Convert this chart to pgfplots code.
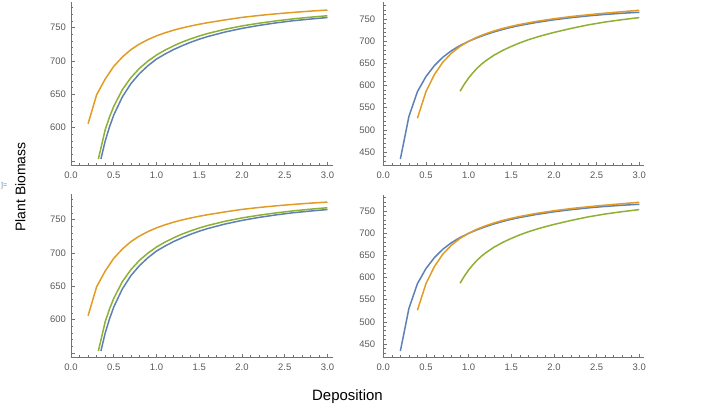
\documentclass[border=0pt]{standalone}
\usepackage{fontspec}
\setmainfont{Liberation Sans}
\usepackage{pgfplots}
\usepackage{pgfplotstable}
\pgfplotsset{compat=1.18}
\definecolor{mblue}{RGB}{94,129,181}
\definecolor{morange}{RGB}{225,156,36}
\definecolor{mgreen}{RGB}{143,176,50}
\definecolor{axgray}{RGB}{115,115,115}
\definecolor{labgray}{RGB}{90,90,90}

\pgfplotstableread{
x y
0.35 553
0.4 580
0.45 601
0.5 619
0.6 646
0.7 666
0.8 681
0.9 693
1.0 703
1.1 710.5
1.2 717.2
1.3 723
1.4 728.2
1.5 732.8
1.6 736.8
1.8 743.5
2.0 749
2.2 753.5
2.4 757.3
2.6 760.5
2.8 763
3.0 765.3
}\lblue
\pgfplotstableread{
x y
0.2 606
0.3 649.5
0.4 673
0.5 692
0.6 706
0.7 717
0.8 725.5
0.9 732.2
1.0 737.8
1.1 742.4
1.2 746.3
1.3 749.7
1.4 752.6
1.5 755.2
1.6 757.6
1.8 761.7
2.0 765.5
2.2 768.4
2.4 770.9
2.6 773.0
2.8 774.9
3.0 776.5
}\lorange
\pgfplotstableread{
x y
0.32 553
0.4 597
0.45 616
0.5 632
0.6 657
0.7 675
0.8 689
0.9 700
1.0 709
1.1 716.5
1.2 722.8
1.3 728.5
1.4 733.3
1.5 737.6
1.6 741.4
1.8 747.6
2.0 752.7
2.2 756.8
2.4 760.3
2.6 763.3
2.8 765.8
3.0 768
}\lgreen
\pgfplotstableread{
x y
0.2 434
0.3 530
0.4 586
0.5 620
0.6 645
0.7 664
0.8 678.5
0.9 690
1.0 699.5
1.1 707.5
1.2 714.5
1.3 720.8
1.4 726.2
1.5 731
1.6 735.2
1.8 742.2
2.0 748
2.2 752.8
2.4 756.8
2.6 760.1
2.8 762.8
3.0 765
}\rblue
\pgfplotstableread{
x y
0.4 526
0.5 586
0.6 625
0.7 653
0.8 673
0.9 688
1.0 699.5
1.1 709
1.2 716.5
1.3 723
1.4 728.5
1.5 733.3
1.6 737.5
1.8 744.6
2.0 750.4
2.2 755.3
2.4 759.4
2.6 763.0
2.8 766.2
3.0 769.5
}\rorange
\pgfplotstableread{
x y
0.9 587
0.95 603
1.0 617
1.05 628.5
1.1 639
1.15 647.8
1.2 655.5
1.3 668.5
1.4 679
1.5 688
1.6 696
1.7 703
1.8 709
1.9 714.5
2.0 719.5
2.2 728.5
2.4 736.5
2.6 743
2.8 748.3
3.0 753
}\rgreen

\pgfplotsset{mstyle/.style={
  scale only axis, anchor=south west,
  xmin=0, xmax=3.06,
  axis lines*=left,
  axis line style={draw=axgray, line width=0.6bp},
  tick align=inside,
  major tick length=4bp, minor tick length=2.3bp,
  tick style={draw=axgray, line width=0.5bp},
  xtick={0,0.5,1,1.5,2,2.5,3}, xticklabels={0.0,0.5,1.0,1.5,2.0,2.5,3.0},
  minor xtick={0.1,0.2,0.3,0.4,0.6,0.7,0.8,0.9,1.1,1.2,1.3,1.4,1.6,1.7,1.8,1.9,2.1,2.2,2.3,2.4,2.6,2.7,2.8,2.9},
  tick label style={font=\fontsize{9.5}{10}\selectfont, text=labgray},
  xticklabel style={inner sep=0pt, anchor=north, yshift=-6bp},
  clip=false,
  every axis plot/.append style={line width=1.5bp, line join=round},
},
leftax/.style={mstyle, width=261.6bp, height=163.3bp, ymin=543, ymax=788,
  ytick={550,600,650,700,750}, yticklabels={{},600,650,700,750},
  minor ytick={560,570,580,590,610,620,630,640,660,670,680,690,710,720,730,740,760,770,780},
  yticklabel style={inner sep=0pt, anchor=east, xshift=-5bp}},
rightax/.style={mstyle, width=261.1bp, height=163.2bp, ymin=419, ymax=787,
  ytick={450,500,550,600,650,700,750},
  yticklabels={450,500,550,600,650,700,750},
  minor ytick={420,430,440,460,470,480,490,510,520,530,540,560,570,580,590,610,620,630,640,660,670,680,690,710,720,730,740,760,770,780},
  yticklabel style={inner sep=0pt, anchor=east, xshift=-8bp}}
}

\begin{document}
\begin{tikzpicture}
\path[use as bounding box] (0,0) rectangle (727bp,-408bp);
\begin{axis}[leftax, at={(71bp,-165.7bp)}]
\addplot[mblue, no marks] table {\lblue};
\addplot[morange, no marks] table {\lorange};
\addplot[mgreen, no marks] table {\lgreen};
\end{axis}
\begin{axis}[leftax, at={(71bp,-357.7bp)}]
\addplot[mblue, no marks] table {\lblue};
\addplot[morange, no marks] table {\lorange};
\addplot[mgreen, no marks] table {\lgreen};
\end{axis}
\begin{axis}[rightax, at={(383.3bp,-165.7bp)}]
\addplot[mblue, no marks] table {\rblue};
\addplot[morange, no marks] table {\rorange};
\addplot[mgreen, no marks] table {\rgreen};
\end{axis}
\begin{axis}[rightax, at={(383.3bp,-357.7bp)}]
\addplot[mblue, no marks] table {\rblue};
\addplot[morange, no marks] table {\rorange};
\addplot[mgreen, no marks] table {\rgreen};
\end{axis}
\node[rotate=90, font=\fontsize{14}{16}\selectfont] at (20.5bp,-187bp) {Plant Biomass};
\node[anchor=base, font=\fontsize{15}{17}\selectfont] at (347.5bp,-400.7bp) {Deposition};
\node[anchor=west, inner sep=0pt, font=\fontsize{7}{8}\selectfont, text=mblue] at (1bp,-186bp) {]=};
\end{tikzpicture}
\end{document}
